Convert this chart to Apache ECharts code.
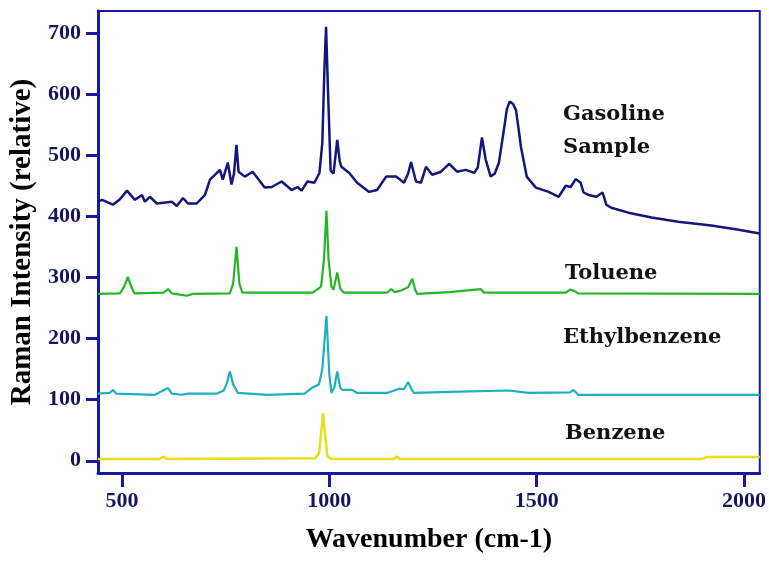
<!DOCTYPE html>
<html>
<head>
<meta charset="utf-8">
<script src="https://cdn.jsdelivr.net/npm/echarts@6/dist/echarts.min.js"></script>
<style>
  html, body { margin: 0; padding: 0; background: #fff; }
  #chart { width: 769px; height: 561px; }
</style>
</head>
<body>
<div id="chart"></div>
<script>
(function() {
    'use strict';

    // tick labels
    var xTicks = [500, 1000, 1500, 2000];
    var yTicks = [0, 100, 200, 300, 400, 500, 600, 700];

    // gasoline sample (wavenumber, intensity)
    var gasWn = [442, 452, 478, 495, 512, 531, 548, 555, 567, 584, 620, 632, 647, 659, 680, 700, 712, 724, 736, 743,
        755, 764, 770, 776, 781, 796, 815, 844, 861, 885, 909, 923, 933, 947, 964, 976, 983, 988, 992, 997,
        1003, 1010, 1019, 1025, 1029, 1048, 1067, 1096, 1115, 1137, 1161, 1180, 1190, 1197, 1204, 1209, 1221, 1233, 1248, 1269,
        1289, 1308, 1329, 1349, 1358, 1368, 1377, 1389, 1399, 1409, 1421, 1428, 1435, 1443, 1450, 1456, 1462, 1476, 1498, 1529,
        1553, 1570, 1582, 1594, 1606, 1613, 1625, 1644, 1659, 1668, 1680, 1721, 1777, 1841, 1921, 1980, 2038];
    var gasVal = [424, 427, 419, 428, 442, 427, 435, 424, 432, 421, 424, 417, 430, 421, 421, 435, 460, 468, 476, 460,
        488, 452, 470, 517, 473, 465, 473, 447, 448, 457, 443, 448, 442, 457, 455, 471, 520, 640, 710, 600,
        475, 470, 525, 490, 481, 471, 455, 440, 443, 465, 465, 455, 470, 489, 470, 457, 455, 481, 468, 473,
        486, 473, 476, 471, 480, 529, 493, 465, 470, 488, 542, 575, 588, 584, 574, 545, 514, 465, 447, 440,
        432, 450, 448, 461, 455, 439, 435, 432, 439, 419, 414, 406, 398, 391, 385, 379, 372];

    // toluene
    var tolWn = [442, 495, 505, 514, 522, 530, 600, 611, 620, 656, 670, 760, 768, 776, 783, 790, 960, 980, 987, 993,
        998, 1005, 1010, 1019, 1026, 1035, 1140, 1149, 1158, 1170, 1190, 1200, 1207, 1212, 1290, 1365, 1373, 1570, 1580, 1590,
        1600, 2038];
    var tolVal = [273, 274, 285, 301, 285, 274, 275, 281, 274, 270, 273, 274, 290, 350, 290, 275, 275, 285, 330, 409,
        330, 285, 280, 308, 282, 275, 275, 281, 276, 278, 284, 298, 280, 273, 276, 281, 275, 275, 280, 278,
        274, 273];

    // ethylbenzene
    var ethWn = [442, 470, 478, 486, 579, 611, 620, 644, 660, 730, 745, 752, 760, 768, 779, 851, 940, 957, 975, 983,
        993, 1000, 1005, 1012, 1019, 1026, 1031, 1055, 1067, 1139, 1168, 1180, 1190, 1198, 1204, 1313, 1433, 1480, 1580, 1589,
        1600, 2038];
    var ethVal = [110, 111, 116, 110, 108, 119, 110, 108, 110, 110, 115, 125, 146, 125, 111, 108, 110, 119, 125, 150,
        237, 140, 111, 120, 146, 120, 116, 116, 111, 111, 118, 117, 129, 117, 111, 113, 115, 111, 112, 116,
        108, 108];

    // benzene
    var benWn = [442, 590, 599, 608, 965, 975, 980, 985, 990, 995, 1005, 1155, 1163, 1170, 1900, 1910, 2038];
    var benVal = [3, 3, 7, 3, 4, 12, 45, 78, 40, 8, 3, 3, 7, 3, 3, 6, 6];

    var labels = [
        { text: 'Gasoline', left: 563, top: 104 },
        { text: 'Sample', left: 563, top: 137 },
        { text: 'Toluene', left: 565, top: 263 },
        { text: 'Ethylbenzene', left: 563, top: 327 },
        { text: 'Benzene', left: 565, top: 423 }
    ];

    function pairs(xs, ys) {
        return xs.map(function(x, i) { return [x, ys[i]]; });
    }

    function line(name, xs, ys, color, width) {
        return {
            name: name,
            type: 'line',
            data: pairs(xs, ys),
            showSymbol: false,
            smooth: false,
            lineStyle: { color: color, width: width },
            z: 3
        };
    }

    var axisBlue = '#1818a0';
    var labelFont = {
        fontFamily: 'Liberation Serif',
        fontWeight: 'bold',
        fontSize: 22,
        color: '#16165e',
        formatter: function(v) { return String(v); }
    };

    var chart = echarts.init(document.getElementById('chart'));

    chart.setOption({
        animation: false,
        backgroundColor: '#ffffff',
        grid: {
            left: 98, top: 11, right: 7, bottom: 88,
            show: true,
            borderColor: axisBlue,
            borderWidth: 2
        },
        xAxis: {
            type: 'value',
            min: 442,
            max: 2038,
            name: 'Wavenumber (cm-1)',
            nameLocation: 'middle',
            nameGap: 53,
            nameTextStyle: {
                fontFamily: 'Liberation Serif', fontWeight: 'bold', fontSize: 28, color: '#000'
            },
            axisLine: { onZero: false, lineStyle: { color: axisBlue, width: 3 } },
            axisTick: { show: true, customValues: xTicks, length: 14, lineStyle: { color: axisBlue, width: 3 } },
            axisLabel: Object.assign({ customValues: xTicks, margin: 17 }, labelFont),
            splitLine: { show: false }
        },
        yAxis: {
            type: 'value',
            min: -20,
            max: 736,
            name: 'Raman Intensity (relative)',
            nameLocation: 'middle',
            nameGap: 49,
            nameTextStyle: {
                fontFamily: 'Liberation Serif', fontWeight: 'bold', fontSize: 29, color: '#000'
            },
            axisLine: { show: true, lineStyle: { color: axisBlue, width: 3 } },
            axisTick: { show: true, customValues: yTicks, length: 12, lineStyle: { color: axisBlue, width: 3 } },
            axisLabel: Object.assign({ customValues: yTicks, margin: 17 }, labelFont),
            splitLine: { show: false }
        },
        graphic: labels.map(function(l) {
            return {
                type: 'text',
                left: l.left,
                top: l.top,
                style: {
                    text: l.text,
                    font: 'bold 21px "DejaVu Serif"',
                    fill: '#111'
                }
            };
        }),
        series: [
            line('Gasoline Sample', gasWn, gasVal, '#15157a', 2.5),
            line('Toluene', tolWn, tolVal, '#27b427', 2.2),
            line('Ethylbenzene', ethWn, ethVal, '#1fb0c0', 2.2),
            line('Benzene', benWn, benVal, '#e4df1a', 2.5)
        ]
    });
})();
</script>
</body>
</html>
